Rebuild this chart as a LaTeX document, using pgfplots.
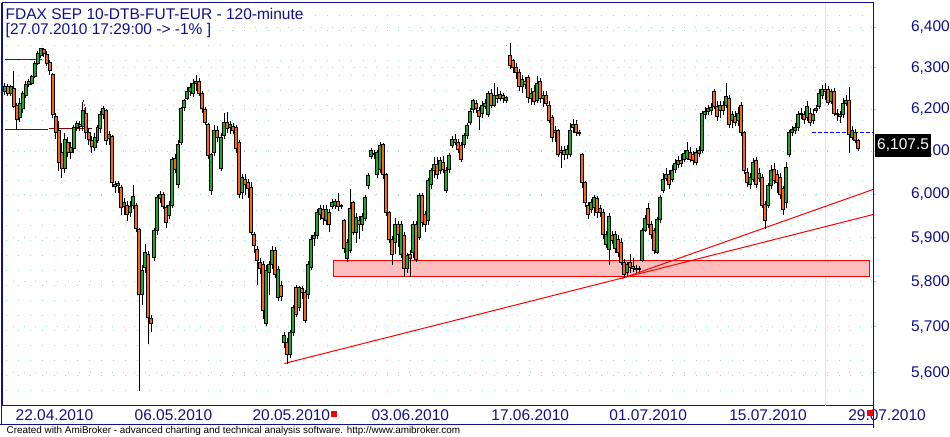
\documentclass[border=0pt]{standalone}
\usepackage{fontspec}
\setmainfont{Liberation Sans}
\usepackage{pgfplots}
\usepackage{pgfplotstable}
\pgfplotsset{compat=1.18}
\definecolor{navyt}{RGB}{16,16,140}
\definecolor{gridc}{RGB}{150,220,220}
\definecolor{cgreen}{RGB}{30,170,40}
\definecolor{corange}{RGB}{255,100,20}
\definecolor{darkred}{RGB}{140,0,0}
\definecolor{pinkbox}{RGB}{255,190,190}
\definecolor{pinkline}{RGB}{255,220,220}
% candle marks: heights in pt, 2591pt per unit of ln(price) on this axis
\pgfdeclareplotmark{wick}{\pgfsetlinewidth{0.9pt}\pgfsetstrokecolor{black}%
  \pgfpathmoveto{\pgfpointorigin}\pgfpathlineto{\pgfpoint{0pt}{\wlen pt}}\pgfusepathqstroke}
\pgfdeclareplotmark{bodyup}{\pgfsetlinewidth{0.9pt}\pgfsetstrokecolor{black}\pgfsetfillcolor{cgreen}%
  \pgfpathrectangle{\pgfpoint{-1.5pt}{0pt}}{\pgfpoint{3pt}{\bh pt}}\pgfusepathqfillstroke}
\pgfdeclareplotmark{bodydown}{\pgfsetlinewidth{0.9pt}\pgfsetstrokecolor{black}\pgfsetfillcolor{corange}%
  \pgfpathrectangle{\pgfpoint{-1.5pt}{0pt}}{\pgfpoint{3pt}{\bh pt}}\pgfusepathqfillstroke}
\pgfplotstableread{
x o h l c
4 6244 6263 6234 6256
7 6254 6261 6232 6239
10 6239 6259 6232 6254
13 6251 6293 6203 6208
16 6208 6215 6151 6175
19 6180 6227 6170 6215
22 6201 6244 6191 6239
25 6234 6268 6227 6259
28 6259 6273 6254 6266
31 6263 6283 6259 6278
34 6280 6317 6276 6312
37 6312 6341 6307 6336
40 6331 6348 6324 6346
43 6346 6348 6327 6334
46 6334 6341 6305 6312
49 6312 6319 6283 6293
52 6283 6288 6180 6187
55 6184 6191 6130 6144
58 6149 6173 6055 6074
61 6097 6121 6038 6060
64 6060 6144 6050 6128
67 6121 6133 6086 6097
70 6097 6121 6083 6109
73 6107 6163 6097 6156
76 6156 6173 6149 6166
79 6163 6173 6149 6159
82 6159 6217 6149 6196
85 6191 6206 6130 6144
88 6144 6156 6116 6128
91 6126 6137 6097 6112
94 6109 6144 6102 6133
97 6126 6163 6119 6156
100 6154 6196 6144 6187
103 6187 6208 6177 6201
106 6196 6201 6116 6126
109 6130 6149 6116 6140
112 6135 6140 6017 6027
115 6022 6031 6003 6017
118 6020 6031 6003 6024
121 6015 6022 5953 5968
124 5971 5992 5953 5980
127 5975 5984 5939 5953
130 5957 5984 5948 5971
133 5975 6020 5966 5994
136 5973 5980 5912 5921
139 5919 5923 5561 5771
142 5771 5839 5749 5826
145 5833 5885 5821 5866
148 5862 5871 5662 5721
151 5718 5727 5688 5707
154 5855 5923 5848 5916
157 5916 5999 5907 5992
160 5989 6008 5980 5999
163 5999 6006 5966 5973
166 5968 5975 5923 5934
169 5950 5984 5943 5975
172 5975 6086 5968 6081
175 6083 6093 6050 6057
178 6022 6126 6015 6116
181 6121 6206 6114 6201
184 6203 6225 6196 6220
187 6227 6254 6222 6244
190 6244 6263 6232 6254
193 6239 6273 6229 6263
196 6263 6283 6244 6268
199 6268 6276 6232 6239
202 6239 6244 6191 6201
205 6199 6206 6163 6168
208 6163 6168 6083 6090
211 6008 6097 5999 6093
214 6097 6163 6090 6149
217 6149 6159 6121 6133
221 6060 6144 6055 6133
224 6137 6191 6130 6168
227 6168 6194 6144 6154
230 6156 6173 6140 6163
233 6159 6168 6140 6149
236 6156 6163 6097 6107
239 6121 6126 5992 5999
242 6003 6046 5989 6038
245 6034 6046 5999 6022
248 6027 6036 5992 6013
251 6015 6027 5905 5912
254 5907 5912 5866 5882
257 5873 5880 5792 5848
260 5844 5853 5817 5830
263 5839 5848 5718 5736
266 5709 5839 5703 5826
269 5821 5848 5771 5839
272 5839 5880 5830 5871
275 5871 5878 5808 5817
278 5765 5835 5758 5828
281 5792 5803 5758 5767
284 5666 5688 5655 5681
287 5666 5675 5618 5640
290 5640 5694 5633 5688
293 5688 5749 5681 5742
296 5787 5794 5721 5727
299 5742 5792 5736 5787
302 5785 5792 5762 5776
305 5776 5783 5709 5714
308 5771 5848 5762 5839
311 5833 5905 5826 5896
314 5898 5912 5882 5905
317 5905 5966 5898 5957
320 5953 5975 5941 5968
323 5966 5975 5930 5943
326 5939 5975 5928 5964
329 5957 5966 5912 5930
332 5973 5989 5966 5980
335 5975 5989 5966 5982
338 5984 6003 5962 5971
341 5973 5977 5966 5971
344 5939 5943 5866 5876
347 5853 5898 5846 5889
350 5871 6013 5866 5966
353 5980 5984 5905 5912
356 5912 5957 5889 5946
359 5939 5950 5898 5930
362 5930 5957 5916 5948
365 5943 5999 5939 5992
368 6020 6050 6013 6043
371 6088 6107 6083 6102
374 6093 6104 6083 6095
377 6046 6104 6038 6097
380 6057 6121 6050 6114
383 6116 6121 6036 6046
386 6046 6050 5950 5957
389 5957 5962 5889 5896
392 5896 5903 5839 5862
395 5889 5946 5862 5930
398 5930 5937 5878 5907
401 5862 5939 5855 5930
404 5905 5912 5810 5830
407 5830 5866 5821 5860
410 5862 5873 5810 5853
413 5866 5939 5853 5930
416 5930 5937 5844 5851
419 5900 6003 5894 5996
422 5996 6003 5925 5934
425 5953 5962 5912 5930
428 5939 6038 5930 6031
431 6022 6062 6013 6055
434 6055 6086 6038 6069
437 6069 6086 6036 6046
440 6055 6086 6046 6079
443 6074 6090 6050 6057
446 6008 6062 6003 6055
449 6057 6097 6050 6090
452 6114 6137 6109 6128
455 6128 6140 6114 6121
458 6121 6130 6097 6104
461 6114 6121 6074 6081
464 6116 6144 6109 6137
467 6137 6168 6130 6161
470 6168 6203 6163 6196
473 6199 6225 6191 6220
476 6215 6222 6191 6201
479 6196 6206 6151 6182
482 6191 6220 6180 6210
485 6208 6225 6201 6215
488 6187 6244 6182 6237
491 6239 6249 6203 6210
494 6210 6263 6206 6234
497 6234 6254 6215 6225
500 6227 6244 6220 6237
503 6234 6239 6215 6225
506 6222 6232 6215 6227
510 6329 6361 6297 6307
513 6317 6322 6288 6302
516 6302 6312 6273 6288
519 6288 6297 6244 6254
522 6254 6283 6239 6273
525 6268 6278 6249 6259
528 6276 6283 6215 6229
531 6227 6251 6210 6239
534 6244 6259 6210 6220
537 6222 6280 6215 6263
540 6268 6276 6215 6225
543 6227 6244 6206 6234
546 6234 6244 6208 6215
549 6210 6220 6168 6173
552 6180 6187 6121 6133
555 6144 6159 6121 6149
558 6149 6154 6086 6093
561 6097 6112 6062 6102
564 6102 6112 6079 6093
567 6093 6116 6083 6104
570 6093 6168 6086 6149
573 6156 6177 6144 6163
576 6163 6175 6137 6144
579 6144 6151 6135 6142
582 6093 6097 6015 6027
585 6027 6031 5971 5980
588 5975 5982 5943 5953
591 5964 5989 5957 5980
594 5968 5999 5950 5992
597 5989 5996 5946 5957
600 5966 5975 5948 5957
603 5957 5966 5898 5907
606 5885 5916 5876 5907
609 5873 5957 5837 5948
612 5905 5916 5885 5894
615 5876 5916 5866 5907
618 5896 5905 5857 5866
621 5889 5898 5837 5844
624 5844 5851 5808 5817
627 5821 5846 5812 5839
630 5844 5862 5821 5833
633 5835 5853 5823 5830
636 5828 5839 5821 5830
639 5830 5835 5823 5828
642 5848 5921 5844 5916
645 5916 5953 5912 5943
648 5968 5980 5921 5930
651 5930 5939 5898 5907
654 5916 5923 5862 5871
657 5866 5948 5862 5941
660 5941 5999 5934 5992
663 6008 6050 6003 6034
666 6036 6062 6031 6046
669 6046 6055 6013 6022
672 6034 6067 6027 6055
675 6057 6081 6050 6071
678 6069 6088 6060 6079
681 6079 6093 6064 6071
684 6081 6104 6074 6095
687 6083 6121 6079 6102
690 6097 6109 6074 6081
693 6093 6102 6069 6079
696 6097 6109 6069 6074
699 6095 6112 6088 6102
702 6102 6196 6097 6189
705 6187 6206 6177 6196
708 6194 6210 6187 6201
711 6196 6215 6187 6203
714 6244 6249 6201 6208
717 6208 6220 6173 6184
720 6196 6220 6180 6210
723 6208 6220 6187 6196
726 6210 6263 6203 6232
729 6227 6234 6154 6163
732 6173 6196 6156 6187
735 6184 6196 6159 6168
738 6173 6206 6159 6191
741 6210 6217 6137 6144
744 6144 6149 6046 6055
747 6050 6062 6017 6027
750 6022 6050 6013 6038
753 6034 6083 6027 6074
756 6079 6086 6015 6022
759 6036 6060 6027 6048
762 6038 6046 5968 5975
765 5975 5984 5919 5939
768 5975 6027 5968 6020
771 6020 6067 6013 6055
774 6057 6074 6024 6031
777 6046 6055 6003 6027
780 6038 6050 5989 5999
783 6013 6020 5953 5964
786 5980 6074 5968 6062
789 6093 6151 6086 6144
792 6144 6159 6137 6151
795 6149 6168 6142 6156
798 6156 6196 6149 6187
801 6187 6203 6177 6191
804 6187 6196 6166 6175
807 6180 6220 6173 6208
810 6191 6203 6159 6168
813 6173 6201 6166 6187
816 6196 6210 6191 6201
819 6206 6249 6201 6239
822 6234 6259 6225 6249
825 6249 6263 6222 6244
828 6249 6256 6210 6217
831 6220 6249 6213 6242
834 6244 6251 6184 6191
837 6191 6201 6173 6187
840 6187 6196 6168 6182
843 6187 6227 6180 6215
846 6215 6234 6208 6222
849 6222 6254 6097 6140
852 6133 6159 6126 6149
855 6144 6154 6119 6126
858 6126 6130 6102 6107.5
}\candles
\begin{document}
\begin{tikzpicture}
\fill[white] (0pt,0pt) rectangle (950pt,434pt);
\begin{axis}[
  at={(2pt,31pt)}, anchor=south west,
  scale only axis, width=871pt, height=403pt,
  xmin=2, xmax=873,
  % logarithmic price scale, done by a coordinate transformation
  y coord trafo/.code={\pgfmathparse{1000*ln(#1)-8700}},
  y coord inv trafo/.code={\pgfmathparse{exp((#1+8700)/1000)}},
  ymin=5529.1, ymax=6459.6,
  clip=false,
  axis line style={draw=navyt, line width=1pt},
  xtick={6,17.9,...,860}, xticklabels={},
  xtick style={draw=none},
  xmajorgrids, x grid style={draw=gridc, line width=1pt, dash pattern=on 1pt off 14pt},
  ytick={5600,5700,5800,5900,6000,6100,6200,6300,6400},
  yticklabels={{5,600},{5,700},{5,800},{5,900},{6,000},{6,100},{6,200},{6,300},{6,400}},
  ytick pos=right, yticklabel pos=right,
  ymajorgrids, y grid style={draw=gridc, line width=1pt, dash pattern=on 1pt off 10pt},
  minor ytick={},
  ytick style={draw=gridc, line width=1pt},
  tick align=outside, major tick length=3pt,
  yticklabel style={anchor=east, xshift=74pt, inner sep=0pt, text=navyt, font=\fontsize{15.5}{18}\selectfont},
]
\addplot [pinkline, line width=1pt, forget plot] coordinates {(825,5529.1) (825,6459.6)};
\addplot [draw=red, line width=1pt, fill=pinkbox, forget plot] coordinates {(333,5848) (869,5848) (869,5812) (333,5812) (333,5848)};
\addplot [red, line width=1pt, forget plot] coordinates {(284,5620) (873,5953)};
\addplot [red, line width=1pt, forget plot] coordinates {(622,5808) (873,6011)};
\addplot [darkred, line width=1pt, forget plot] coordinates {(5,6320) (42,6320)};
\addplot [darkred, line width=1pt, forget plot] coordinates {(5,6151) (48,6151)};
\addplot [darkred, line width=1pt, forget plot] coordinates {(49,6154) (92,6154)};
\addplot [darkred, line width=0.8pt, dash pattern=on 2pt off 2pt, forget plot] coordinates {(83,6222) (91,6100)};
% wicks: from low, upward by the high-low distance
\addplot [scatter, only marks, mark=wick, forget plot,
  scatter/@pre marker code/.code={}, scatter/@post marker code/.code={},
  visualization depends on={2591*ln(\thisrow{h}/\thisrow{l}) \as \wlen}]
  table [x=x, y=l] {\candles};
% up bodies: from open upward
\addplot [scatter, only marks, mark=bodyup, forget plot,
  scatter/@pre marker code/.code={}, scatter/@post marker code/.code={},
  restrict expr to domain={\thisrow{c}-\thisrow{o}}{0:100000},
  visualization depends on={2591*ln(\thisrow{c}/\thisrow{o}) \as \bh}]
  table [x=x, y=o] {\candles};
% down bodies: from close upward
\addplot [scatter, only marks, mark=bodydown, forget plot,
  scatter/@pre marker code/.code={}, scatter/@post marker code/.code={},
  restrict expr to domain={\thisrow{o}-\thisrow{c}}{0.001:100000},
  visualization depends on={2591*ln(\thisrow{o}/\thisrow{c}) \as \bh}]
  table [x=x, y=c] {\candles};
\addplot [blue, line width=1pt, dash pattern=on 4pt off 2pt, forget plot] coordinates {(812,6144) (873,6144)};
\addplot [only marks, mark=square*, mark size=2.5pt, red, forget plot] coordinates {(333,5512) (870,5514)};
\end{axis}
\draw[navyt, line width=1pt] (0pt,12pt) -- (873pt,12pt);
\draw[navyt, line width=1pt] (1pt,12pt) -- (1pt,434pt);
\draw[navyt, line width=1pt] (873pt,9pt) -- (873pt,31pt);
\begin{scope}[every node/.style={text=navyt, font=\fontsize{15.5}{18}\selectfont, inner sep=0pt}]
\node at (54pt,22pt) {22.04.2010};
\node at (173pt,22pt) {06.05.2010};
\node at (291pt,22pt) {20.05.2010};
\node at (410pt,22pt) {03.06.2010};
\node at (530pt,22pt) {17.06.2010};
\node at (648pt,22pt) {01.07.2010};
\node at (768pt,22pt) {15.07.2010};
\node at (887pt,22pt) {29.07.2010};
\node[anchor=base west] at (5pt,417.3pt) {FDAX SEP 10-DTB-FUT-EUR - 120-minute};
\node[anchor=base west] at (5pt,402.5pt) {[27.07.2010 17:29:00 -> -1\% ]};
\end{scope}
\fill[red] (867pt,21pt) rectangle (873pt,27pt);
\node[anchor=west, fill=black, text=white, inner xsep=2pt, inner ysep=0pt, minimum height=23pt, font=\fontsize{15.5}{18}\selectfont] at (875pt,291.5pt) {6,107.5};
\node[anchor=base west, inner sep=0pt, font=\fontsize{9.9}{11}\selectfont] at (6pt,3pt) {Created with AmiBroker - advanced charting and technical analysis software. http://www.amibroker.com};
\end{tikzpicture}
\end{document}
